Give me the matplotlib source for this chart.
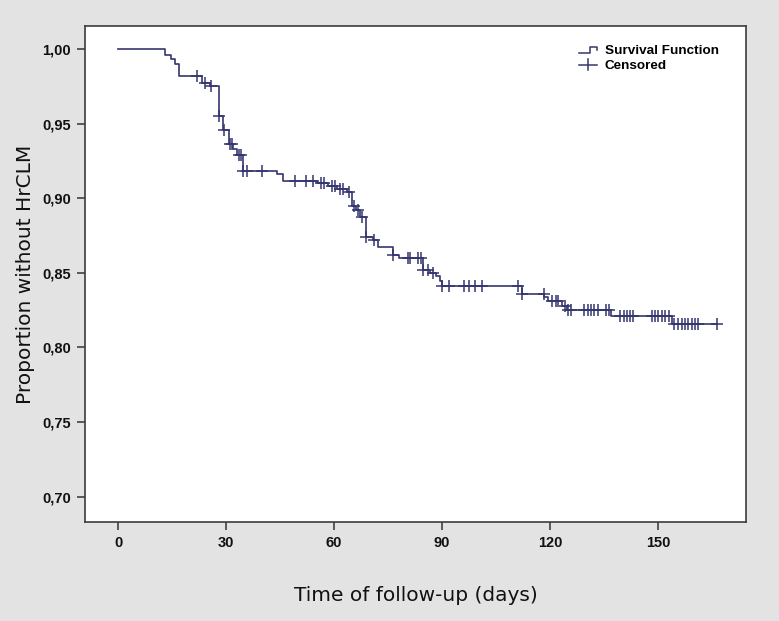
import numpy as np
import matplotlib
matplotlib.use("Agg")
import matplotlib.pyplot as plt

# Kaplan-Meier steps: time of event (days) and survival after that event
event_days = [12.9, 14.7, 15.8, 16.9, 23.2, 25.5, 28.0, 29.1, 30.9, 32.0,
              33.1, 34.6, 44.1, 45.9, 55.2, 58.2, 60.7, 63.5, 64.9, 66.1,
              67.2, 68.8, 70.9, 72.1, 76.3, 78.1, 84.8, 86.7, 88.3, 89.4,
              89.9, 112.1, 118.3, 119.5, 123.2, 124.7, 136.8, 153.8]
survival = [0.996, 0.993, 0.990, 0.982, 0.977, 0.975, 0.955, 0.946, 0.936, 0.933,
            0.929, 0.918, 0.916, 0.9115, 0.9105, 0.9085, 0.9065, 0.904, 0.895, 0.892,
            0.8875, 0.874, 0.872, 0.867, 0.862, 0.860, 0.852, 0.850, 0.848, 0.8445,
            0.8415, 0.836, 0.8335, 0.831, 0.828, 0.825, 0.821, 0.816]

# censored observations (days)
censored_days = [21.8, 24.0, 25.8, 28.0, 29.4, 31.2, 31.7, 33.5, 34.1, 34.8,
                 35.7, 40.0, 49.1, 52.2, 54.1, 56.4, 57.2, 59.4, 60.2, 61.7,
                 62.6, 64.1, 65.4, 66.6, 67.7, 68.8, 71.0, 76.3, 80.5, 81.2,
                 83.3, 84.2, 84.8, 86.0, 87.6, 89.9, 92.0, 96.2, 97.6, 99.2,
                 101.2, 111.2, 112.3, 118.2, 120.5, 121.6, 122.3, 124.2, 125.1, 125.8,
                 129.3, 130.4, 131.4, 132.3, 133.3, 135.6, 136.4, 139.4, 140.4, 141.3,
                 142.2, 143.1, 148.3, 149.2, 150.1, 151.0, 151.9, 152.9, 154.4, 155.6,
                 156.5, 157.5, 158.4, 159.4, 160.3, 161.2, 166.3]

x_ticks = [0, 30, 60, 90, 120, 150]
y_ticks = [0.70, 0.75, 0.80, 0.85, 0.90, 0.95, 1.00]

LINE = "#35356f"
BG = "#e3e3e3"
tick_font = ["Liberation Sans Narrow", "Liberation Sans", "DejaVu Sans"]

fig = plt.figure(figsize=(7.79, 6.21), dpi=100, facecolor=BG)
ax = fig.add_axes([0.1091, 0.1594, 0.8485, 0.7987])
ax.set_facecolor("white")

# step curve
t = np.array([0.0] + event_days + [censored_days[-1]])
s = np.array([1.0] + survival + [survival[-1]])
ax.step(t, s, where="post", color=LINE, linewidth=1.2)

# censor marks on the curve
ev = np.array(event_days)
sv = np.array([1.0] + survival)
cens = np.array(censored_days)
cens_y = sv[np.searchsorted(ev, cens, side="right")]
ax.plot(cens, cens_y, linestyle="none", marker="+", markersize=8,
        markeredgewidth=1.1, color=LINE)

ax.set_xlim(-9.2, 174.4)
ax.set_ylim(0.683, 1.0154)
ax.set_xticks(x_ticks)
ax.set_xticklabels([str(v) for v in x_ticks], fontweight="bold",
                   fontsize=10.5, family=tick_font)
ax.set_yticks(y_ticks)
ax.set_yticklabels([f"{v:.2f}".replace(".", ",") for v in y_ticks],
                   fontweight="bold", fontsize=10.5, family=tick_font)
ax.tick_params(direction="out", length=6, width=1.1, color="#333333",
               labelcolor="#111111", pad=4)
for sp in ax.spines.values():
    sp.set_color("#3c3c3c")
    sp.set_linewidth(1.2)

ax.set_xlabel("Time of follow-up (days)", fontsize=14.5, color="#111111",
              labelpad=26)
ax.set_ylabel("Proportion without HrCLM", fontsize=14.5, color="#111111",
              labelpad=5)

# legend drawn by hand (SPSS style symbols)
def fx(px):
    return (px - 85) / 661.0

def fy(py):
    return (522 - py) / 496.0

ax.plot([fx(579), fx(590), fx(590), fx(597), fx(597)],
        [fy(52.7), fy(52.7), fy(46.7), fy(46.7), fy(49.5)],
        color=LINE, linewidth=1.1, transform=ax.transAxes, clip_on=False)
ax.plot([fx(579), fx(597)], [fy(64.5), fy(64.5)], color=LINE,
        linewidth=1.1, transform=ax.transAxes)
ax.plot([fx(588), fx(588)], [fy(59), fy(70)], color=LINE,
        linewidth=1.1, transform=ax.transAxes)
ax.text(fx(605), fy(50.5), "Survival Function", transform=ax.transAxes,
        fontsize=9.7, fontweight="bold", va="center", ha="left",
        family=["Liberation Sans", "DejaVu Sans"])
ax.text(fx(605), fy(65.5), "Censored", transform=ax.transAxes,
        fontsize=9.7, fontweight="bold", va="center", ha="left",
        family=["Liberation Sans", "DejaVu Sans"])

fig.savefig("out.png", dpi=100, facecolor=BG)
